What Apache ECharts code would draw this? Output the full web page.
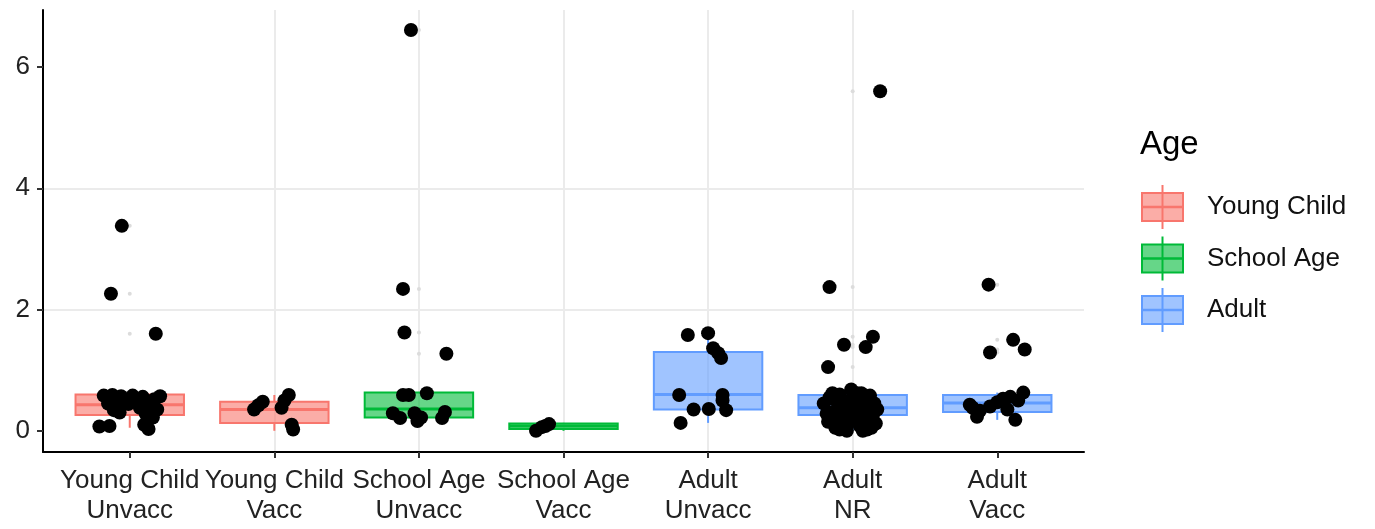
<!DOCTYPE html>
<html>
<head>
<meta charset="utf-8">
<script src="https://cdn.jsdelivr.net/npm/echarts@6/dist/echarts.min.js"></script>
<style>
html,body{margin:0;padding:0;background:#fff;}
#chart{width:1375px;height:529px;}
</style>
</head>
<body>
<div id="chart"></div>
<script>
// ---- Data ----
const categories = ["Young Child\nUnvacc", "Young Child\nVacc", "School Age\nUnvacc", "School Age\nVacc", "Adult\nUnvacc", "Adult\nNR", "Adult\nVacc"];
const ageGroups = ["Young Child", "School Age", "Adult"];
const categoryAge = [0, 0, 1, 1, 2, 2, 2];
const yTicks = [0, 2, 4, 6];
// [lower whisker, Q1, median, Q3, upper whisker]
const boxStats = [
  [0.05, 0.26, 0.43, 0.60, 0.60],
  [0.00, 0.13, 0.35, 0.48, 0.59],
  [0.15, 0.22, 0.36, 0.63, 0.63],
  [0.00, 0.03, 0.08, 0.12, 0.13],
  [0.13, 0.35, 0.60, 1.30, 1.61],
  [0.00, 0.26, 0.38, 0.59, 0.65],
  [0.18, 0.31, 0.46, 0.59, 0.63]
];
const outliers = [
  [3.38, 2.26, 1.60], [], [6.61, 2.34, 1.62, 1.27], [], [], [5.60, 2.37, 1.55, 1.42, 1.38, 1.05], [2.41, 1.50, 1.34, 1.29]
];
// jittered observations: [horizontal jitter (category units), value]
const ptsYoungChildUnvacc = [[-0.055,3.38],[-0.13,2.26],[0.18,1.60],[-0.18,0.58],[-0.12,0.59],[-0.06,0.57],[0.02,0.58],[0.09,0.56],[0.17,0.52],[0.21,0.57],[-0.15,0.45],[-0.09,0.40],[-0.01,0.44],[0.07,0.38],[0.14,0.42],[0.19,0.35],[-0.11,0.34],[-0.21,0.07],[-0.14,0.08],[0.10,0.10],[0.13,0.03],[0.11,0.28],[-0.03,0.50],[0.05,0.47],[-0.07,0.30],[0.16,0.22]];
const ptsYoungChildVacc = [[-0.14,0.35],[-0.11,0.42],[-0.08,0.48],[0.05,0.38],[0.07,0.50],[0.10,0.59],[0.12,0.10],[0.13,0.02]];
const ptsSchoolAgeUnvacc = [[-0.055,6.61],[-0.11,2.34],[-0.10,1.62],[0.19,1.27],[-0.11,0.59],[-0.07,0.59],[0.055,0.62],[-0.18,0.29],[-0.13,0.21],[-0.03,0.29],[-0.01,0.16],[0.015,0.22],[0.18,0.31],[0.16,0.21]];
const ptsSchoolAgeVacc = [[-0.19,0.00],[-0.15,0.06],[-0.10,0.11],[-0.125,0.08]];
const ptsAdultUnvacc = [[-0.14,1.58],[0.0,1.61],[0.035,1.36],[0.07,1.28],[0.09,1.20],[-0.20,0.59],[0.10,0.59],[-0.10,0.35],[0.005,0.36],[0.125,0.34],[-0.19,0.13],[0.10,0.50]];
const ptsAdultNR = [[-0.16,2.37],[0.19,5.60],[-0.17,1.05],[-0.06,1.42],[0.09,1.38],[0.14,1.55],
  [-0.20,0.45],[-0.17,0.15],[-0.15,0.30],[-0.13,0.52],[-0.12,0.05],[-0.10,0.38],[-0.09,0.60],[-0.08,0.22],[-0.06,0.10],[-0.05,0.46],[-0.04,0.00],[-0.02,0.33],[0.0,0.55],[0.01,0.18],[0.03,0.62],[0.04,0.40],[0.05,0.08],[0.06,0.28],[0.08,0.50],[0.09,0.15],[0.10,0.02],[0.11,0.36],[0.12,0.58],[0.14,0.25],[0.15,0.45],[0.16,0.12],[0.17,0.35],[-0.14,0.62],[-0.01,0.68],[0.13,0.05],
  [-0.18,0.28],[-0.11,0.20],[-0.07,0.42],[-0.03,0.12],[0.02,0.30],[0.07,0.00],[0.10,0.48],[-0.16,0.55],[0.06,0.62],[-0.09,0.02]];
const ptsAdultVacc = [[-0.06,2.41],[-0.05,1.29],[0.11,1.50],[0.19,1.34],[-0.19,0.43],[-0.17,0.38],[-0.14,0.23],[-0.12,0.33],[-0.05,0.40],[0.0,0.47],[0.04,0.53],[0.09,0.56],[0.18,0.63],[0.07,0.35],[0.125,0.18],[0.145,0.50]];
const pointsByCategory = [ptsYoungChildUnvacc, ptsYoungChildVacc, ptsSchoolAgeUnvacc, ptsSchoolAgeVacc, ptsAdultUnvacc, ptsAdultNR, ptsAdultVacc];

// ---- Styles ----
const ageColors = ["#F8766D", "#00BA38", "#619CFF"];
const ageFills = ["rgba(248,118,109,0.6)", "rgba(0,186,56,0.6)", "rgba(97,156,255,0.6)"];
const FONT = "Liberation Sans, Arial, sans-serif";

const boxData = boxStats.map((s, i) => [i, s[0], s[1], s[2], s[3], s[4], categoryAge[i]]);
const outlierData = [];
outliers.forEach((arr, i) => arr.forEach(v => outlierData.push([i, v])));
const pointData = [];
pointsByCategory.forEach((arr, i) => arr.forEach(p => pointData.push([i + p[0], p[1]])));

function renderBox(params, api) {
  const x = api.value(0);
  const lo = api.coord([x, api.value(1)]);
  const q1 = api.coord([x, api.value(2)]);
  const med = api.coord([x, api.value(3)]);
  const q3 = api.coord([x, api.value(4)]);
  const hi = api.coord([x, api.value(5)]);
  const g = api.value(6);
  const c = ageColors[g];
  const hw = api.size([0.75, 0])[0] / 2;
  return {
    type: 'group',
    children: [
      {type: 'line', shape: {x1: lo[0], y1: lo[1], x2: q1[0], y2: q1[1]}, style: {stroke: c, lineWidth: 2}},
      {type: 'line', shape: {x1: q3[0], y1: q3[1], x2: hi[0], y2: hi[1]}, style: {stroke: c, lineWidth: 2}},
      {type: 'rect', shape: {x: q3[0] - hw, y: q3[1], width: 2 * hw, height: q1[1] - q3[1]}, style: {fill: ageFills[g], stroke: c, lineWidth: 2}},
      {type: 'line', shape: {x1: med[0] - hw, y1: med[1], x2: med[0] + hw, y2: med[1]}, style: {stroke: c, lineWidth: 3}}
    ]
  };
}

// legend built from ageGroups
const legendChildren = [
  {type: 'text', left: 1140, top: 128, style: {text: 'Age', font: '33px ' + FONT, fill: '#000'}}
];
ageGroups.forEach((name, i) => {
  const cy = 207 + i * 51.5;
  legendChildren.push(
    {type: 'line', shape: {x1: 1162.5, y1: cy - 22, x2: 1162.5, y2: cy + 22}, style: {stroke: ageColors[i], lineWidth: 2}},
    {type: 'rect', shape: {x: 1142, y: cy - 14, width: 41, height: 28}, style: {fill: ageFills[i], stroke: ageColors[i], lineWidth: 2}},
    {type: 'line', shape: {x1: 1142, y1: cy, x2: 1183, y2: cy}, style: {stroke: ageColors[i], lineWidth: 2.5}},
    {type: 'text', x: 1207, y: cy, style: {text: name, font: '26px ' + FONT, fill: '#111', verticalAlign: 'middle'}}
  );
});

const chart = echarts.init(document.getElementById('chart'), null, {renderer: 'canvas'});
chart.setOption({
  animation: false,
  backgroundColor: '#fff',
  grid: {left: 43, right: 291, top: 10, bottom: 77, containLabel: false},
  xAxis: {
    type: 'value', min: -0.6, max: 6.6,
    axisLine: {show: true, onZero: false, lineStyle: {color: '#000', width: 2}},
    axisTick: {show: true, length: 6, customValues: categories.map((c, i) => i), lineStyle: {color: '#333', width: 2}},
    axisLabel: {customValues: categories.map((c, i) => i), formatter: v => categories[Math.round(v)], color: '#222', fontFamily: FONT, fontSize: 26, lineHeight: 30, margin: 14, align: 'center'},
    splitLine: {show: true, showMinLine: false, showMaxLine: false, lineStyle: {color: '#ebebeb', width: 2}}
  },
  yAxis: {
    type: 'value', min: -0.35, max: 6.94,
    axisLine: {show: true, onZero: false, lineStyle: {color: '#000', width: 2}},
    axisTick: {show: true, length: 6, customValues: yTicks, lineStyle: {color: '#333', width: 2}},
    axisLabel: {customValues: yTicks, color: '#222', fontFamily: FONT, fontSize: 26, margin: 13},
    splitLine: {show: true, showMinLine: false, showMaxLine: false, lineStyle: {color: '#ebebeb', width: 2}}
  },
  series: [
    {type: 'custom', renderItem: renderBox, data: boxData, z: 2, encode: {x: 0, y: [1, 2, 3, 4, 5]}},
    {type: 'scatter', data: outlierData, symbolSize: 4, itemStyle: {color: '#dcdcdc', opacity: 1}, z: 3},
    {type: 'scatter', data: pointData, symbolSize: 14, itemStyle: {color: '#000', opacity: 1}, z: 4}
  ],
  graphic: legendChildren
});
</script>
</body>
</html>
